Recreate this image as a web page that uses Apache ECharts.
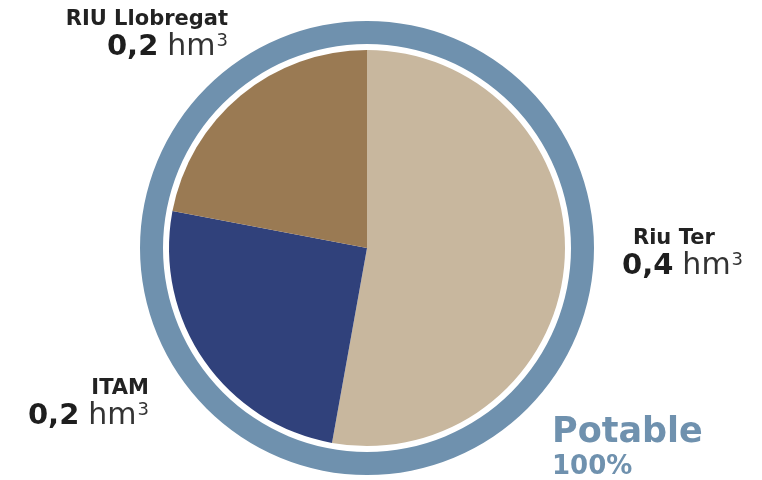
<!DOCTYPE html>
<html>
<head>
<meta charset="utf-8">
<script src="https://cdn.jsdelivr.net/npm/echarts@6/dist/echarts.min.js"></script>
<style>html,body{margin:0;padding:0;background:#fff}#c{width:762px;height:480px}</style>
</head>
<body>
<div id="c"></div>
<script>
// Data (hm³)
const categories = ['Riu Ter', 'ITAM', 'RIU Llobregat'];
const volumes = [0.42, 0.20, 0.175];
const volumeLabels = ['0,4', '0,2', '0,2'];
const colors = ['#c8b79e', '#30417b', '#9a7a53'];
const totalTitle = 'Potable';
const totalShare = '100%';

const ringColor = '#6f91ae';
const cx = 367, cy = 248;
const FONT = 'DejaVu Sans';

// label anchor settings per slice
const labelPos = [
  { x: 622, y: 226, align: 'left' },
  { x: 149, y: 376, align: 'right' },
  { x: 228, y: 7, align: 'right' }
];

function rich(align, namePad) {
  return {
    name: { fontFamily: FONT, fontWeight: 'bold', fontSize: 21, color: '#222', lineHeight: 25, align: align, padding: [0, 0, 0, namePad] },
    num: { fontFamily: FONT, fontWeight: 'bold', fontSize: 29, color: '#1e1e1e', lineHeight: 31, align: align },
    unit: { fontFamily: FONT, fontWeight: 'normal', fontSize: 30, color: '#333', lineHeight: 31, align: align, padding: [0, 0, 0, 9] },
    sup: { fontFamily: FONT, fontWeight: 'normal', fontSize: 18, color: '#333', verticalAlign: 'top', lineHeight: 31, align: align, padding: [0, 0, 0, 1] }
  };
}

const pieData = categories.map((c, i) => ({
  name: c,
  value: volumes[i],
  itemStyle: { color: colors[i] },
  label: {
    show: true,
    formatter: '{name|' + c + '}\n{num|' + volumeLabels[i] + '}{unit|hm}{sup|3}',
    rich: rich(labelPos[i].align, labelPos[i].align === 'left' ? 11 : 0)
  }
}));

const chart = echarts.init(document.getElementById('c'), null, { renderer: 'canvas' });
chart.setOption({
  animation: false,
  backgroundColor: '#fff',
  series: [
    {
      type: 'pie',
      silent: true,
      center: [cx, cy],
      radius: [204, 227],
      label: { show: false },
      labelLine: { show: false },
      data: [{ value: 1, itemStyle: { color: ringColor } }]
    },
    {
      type: 'pie',
      silent: true,
      center: [cx, cy],
      radius: [0, 198],
      startAngle: 90,
      clockwise: true,
      labelLine: { show: false },
      label: { position: 'outside' },
      labelLayout: function (p) {
        const lp = labelPos[p.dataIndex];
        return { x: lp.x, y: lp.y, align: lp.align, verticalAlign: 'top' };
      },
      data: pieData
    }
  ],
  graphic: [
    { type: 'text', left: 552, top: 415, style: { text: totalTitle, fontFamily: FONT, fontWeight: 'bold', fontSize: 35, fill: ringColor } },
    { type: 'text', left: 552, top: 454, style: { text: totalShare, fontFamily: FONT, fontWeight: 'bold', fontSize: 26, fill: ringColor } }
  ]
});
</script>
</body>
</html>
